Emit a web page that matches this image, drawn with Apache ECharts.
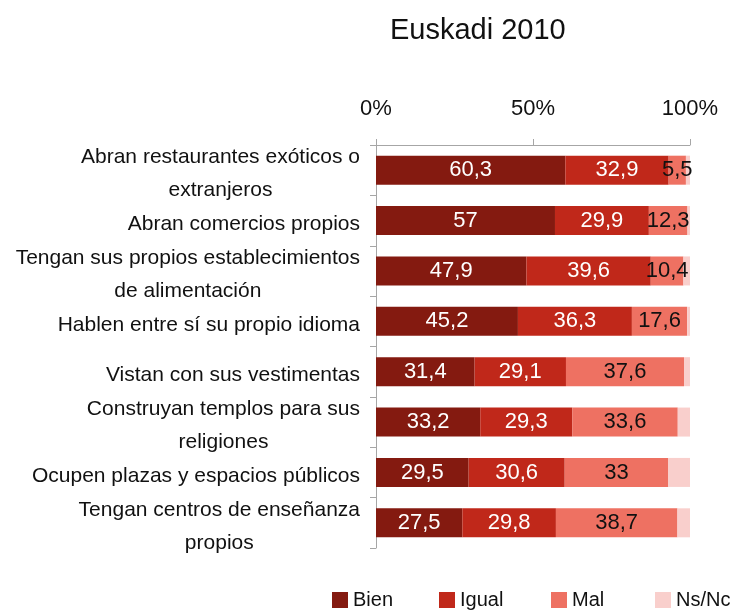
<!DOCTYPE html>
<html>
<head>
<meta charset="utf-8">
<title>Euskadi 2010</title>
<script src="https://cdn.jsdelivr.net/npm/echarts@6/dist/echarts.min.js"></script>
<style>
  html, body { margin: 0; padding: 0; background: #fff; }
  #chart { width: 732px; height: 610px; }
</style>
</head>
<body>
<div id="chart"></div>
<script>
const categories = [
  'Abran restaurantes exóticos o\nextranjeros',
  'Abran comercios propios',
  'Tengan sus propios establecimientos\nde alimentación',
  'Hablen entre sí su propio idioma',
  'Vistan con sus vestimentas',
  'Construyan templos para sus\nreligiones',
  'Ocupen plazas y espacios públicos',
  'Tengan centros de enseñanza\npropios'
]
const seriesNames = ['Bien', 'Igual', 'Mal', 'Ns/Nc']
const bien = [60.3, 57, 47.9, 45.2, 31.4, 33.2, 29.5, 27.5]
const igual = [32.9, 29.9, 39.6, 36.3, 29.1, 29.3, 30.6, 29.8]
const mal = [5.5, 12.3, 10.4, 17.6, 37.6, 33.6, 33, 38.7]
const nsnc = [1.3, 0.8, 2.1, 0.9, 1.9, 3.9, 6.9, 4.0]
const xTicks = [0, 50, 100]

const SANS = '"Liberation Sans", Arial, sans-serif'
const colors = ['#841a10', '#c0281a', '#ee7162', '#f9cfcc']
const labelColors = ['#fff', '#fff', '#111', null]
const legendLeft = [332, 439, 551, 655]

const chart = echarts.init(document.getElementById('chart'))

const values = [bien, igual, mal, nsnc]
const series = seriesNames.map((name, i) => ({
  name: name,
  type: 'bar',
  stack: 'total',
  barWidth: 29,
  itemStyle: { color: colors[i] },
  label: {
    show: labelColors[i] !== null,
    position: 'inside',
    color: labelColors[i] || '#111',
    fontFamily: SANS,
    fontSize: 22,
    formatter: p => String(p.value).replace('.', ',') // coma decimal
  },
  data: values[i]
}))

const option = {
  animation: false,
  color: colors,
  title: {
    text: 'Euskadi 2010',
    left: 385,
    top: 11,
    textStyle: { fontFamily: SANS, fontSize: 29, fontWeight: 'normal', color: '#111' }
  },
  legend: seriesNames.map((name, i) => ({
    data: [name],
    left: legendLeft[i],
    top: 590,
    padding: 0,
    icon: 'rect',
    itemWidth: 16,
    itemHeight: 16,
    selectedMode: false,
    textStyle: { fontFamily: SANS, fontSize: 20, color: '#111' }
  })),
  grid: {
    left: 376,
    right: 42,
    top: 145,
    bottom: 62,
    containLabel: false,
    outerBoundsMode: 'none'
  },
  xAxis: {
    type: 'value',
    position: 'top',
    min: xTicks[0],
    max: xTicks[xTicks.length - 1],
    interval: xTicks[1] - xTicks[0],
    axisLine: { show: true, lineStyle: { color: '#a6a6a6' } },
    axisTick: { show: true, length: 6, lineStyle: { color: '#a6a6a6' } },
    splitLine: { show: false },
    axisLabel: {
      margin: 25,
      formatter: '{value}%',
      fontFamily: SANS,
      fontSize: 22,
      color: '#111'
    }
  },
  yAxis: {
    type: 'category',
    inverse: true,
    data: categories,
    axisLine: { show: true, lineStyle: { color: '#a6a6a6' } },
    axisTick: { show: true, length: 6, lineStyle: { color: '#a6a6a6' } },
    axisLabel: {
      margin: 16,
      padding: [7, 0, 0, 0],
      // cada línea centrada dentro del bloque, bloque alineado a la derecha
      formatter: v => v.split('\n').map(s => '{c|' + s + '}').join('\n'),
      rich: {
        c: { align: 'center', fontFamily: SANS, fontSize: 21, lineHeight: 33, color: '#111' }
      }
    }
  },
  series: series
}

option && chart.setOption(option)
</script>
</body>
</html>
